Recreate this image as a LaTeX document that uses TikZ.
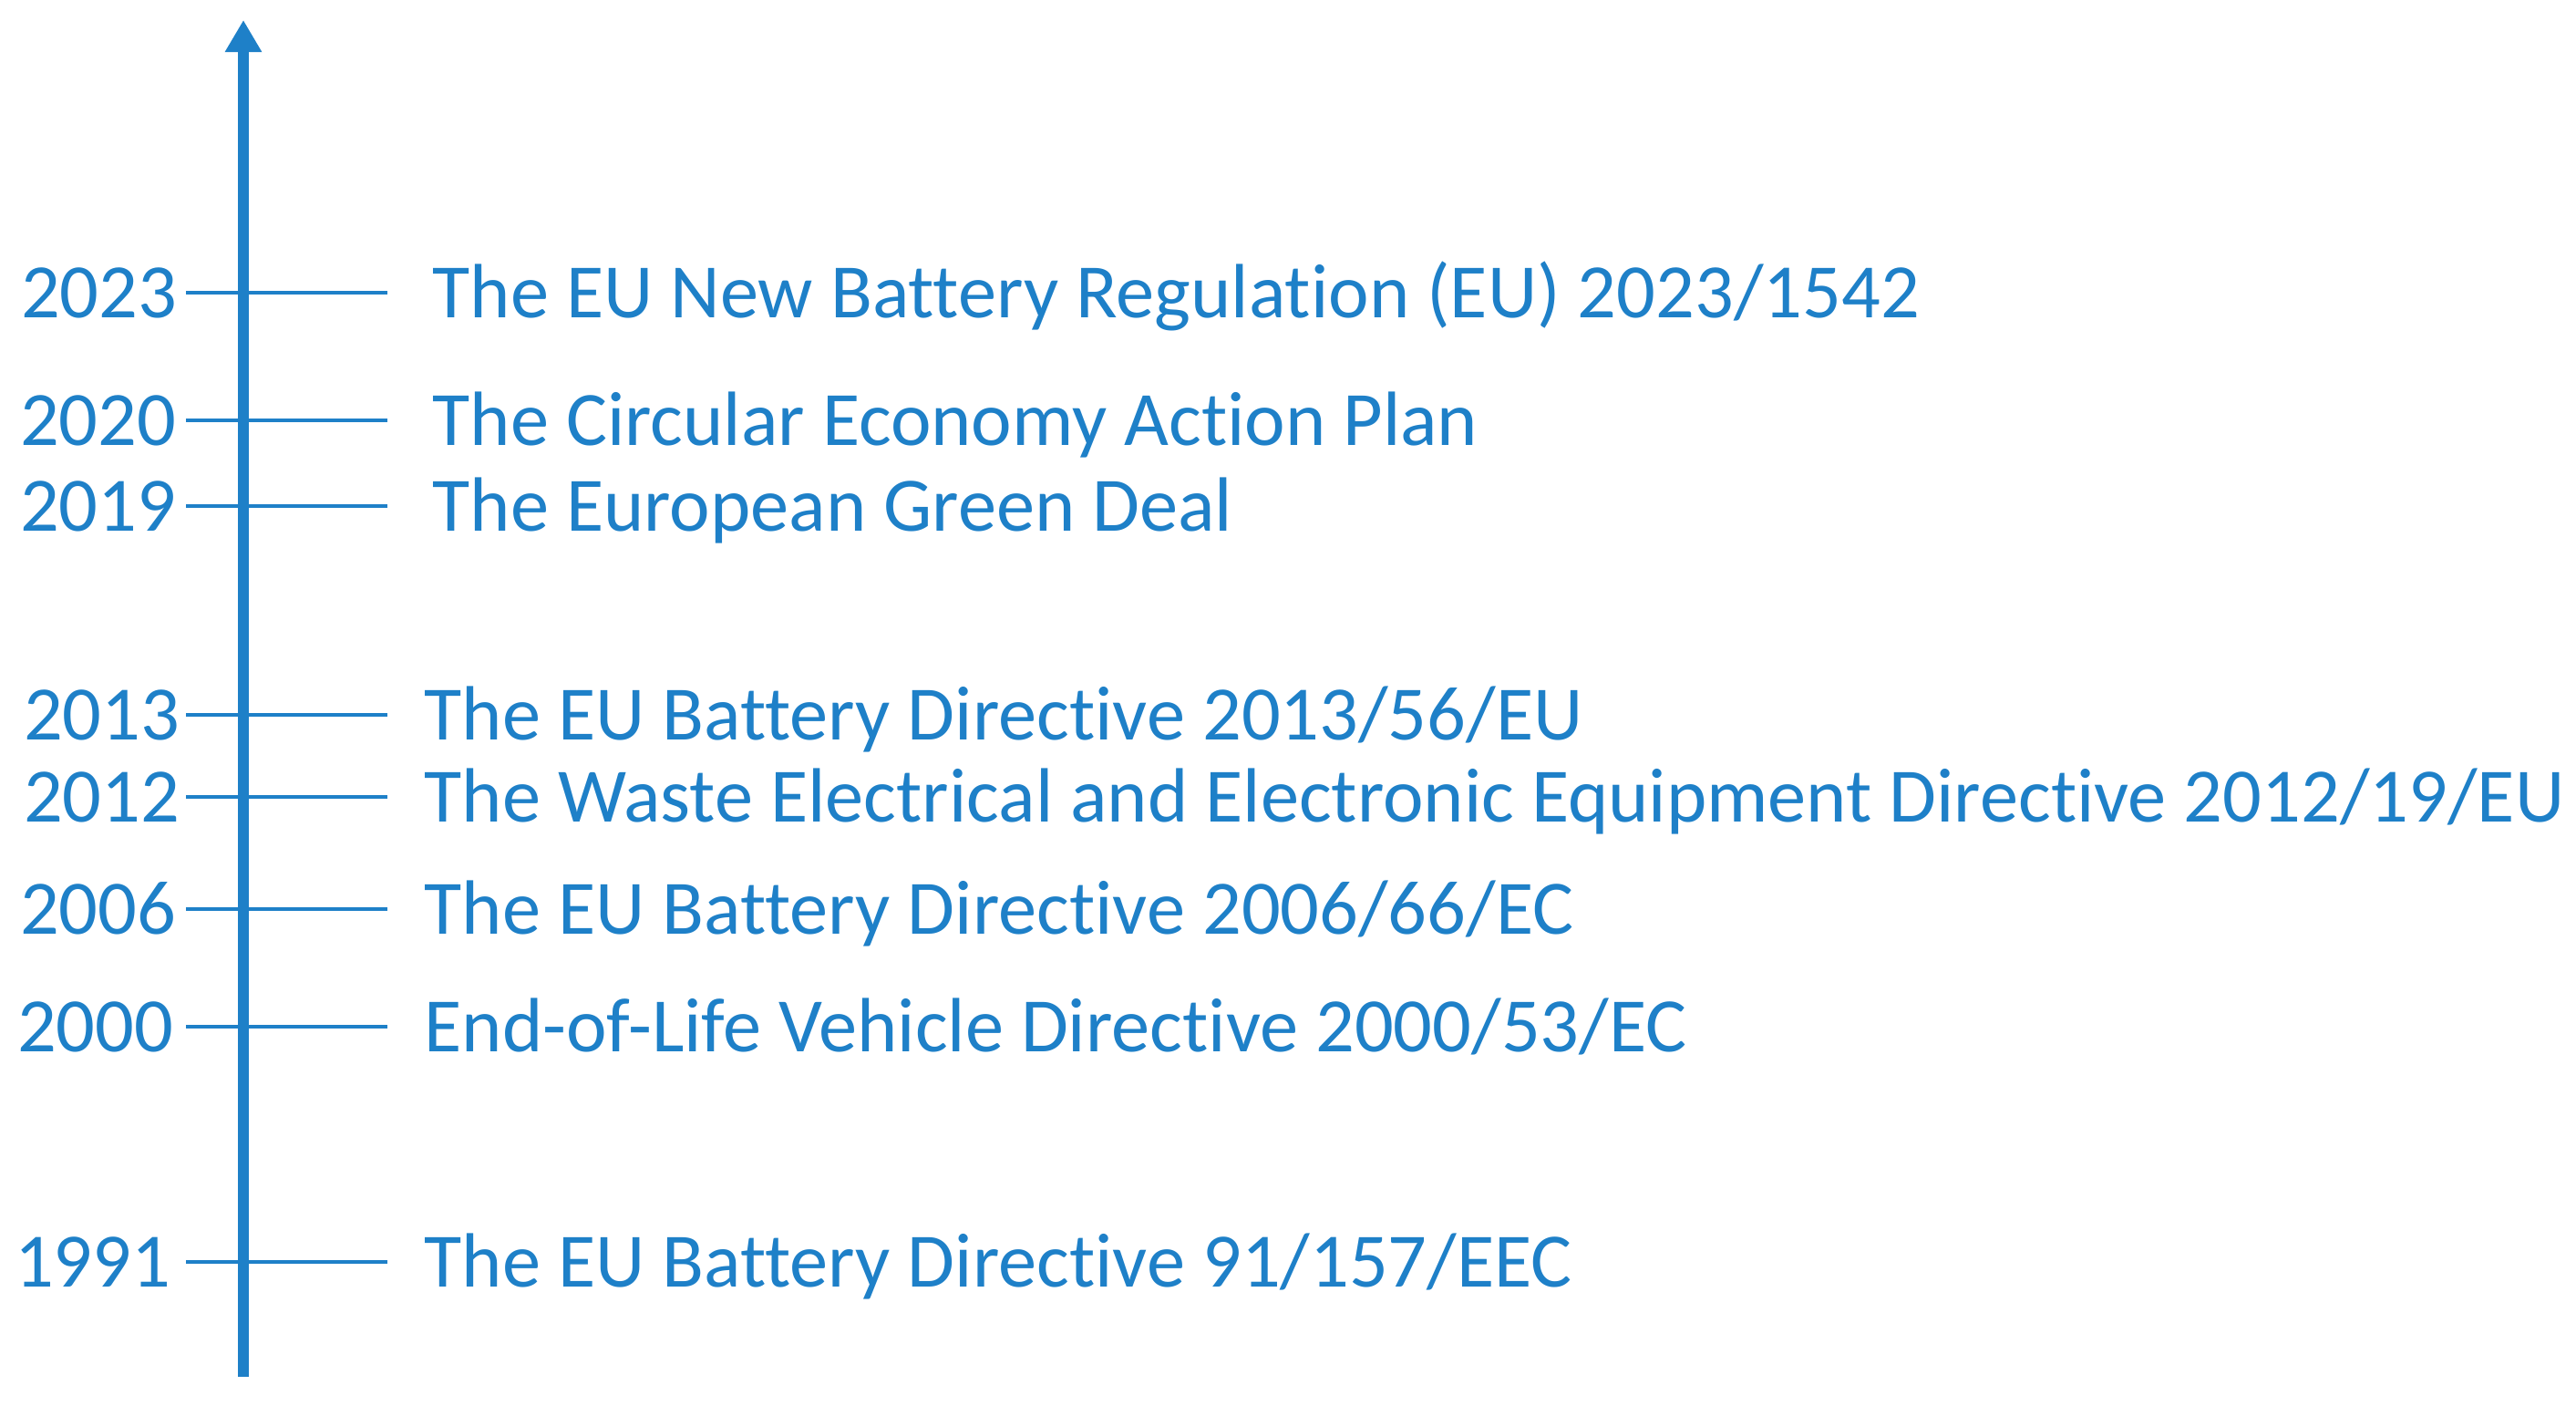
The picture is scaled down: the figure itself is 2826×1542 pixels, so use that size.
\documentclass[tikz,border=0pt]{standalone}
\usepackage{fontspec}
\setmainfont{Carlito}[Ligatures=NoCommon]
\usetikzlibrary{arrows.meta}
\definecolor{lawblue}{RGB}{30,128,200}

\begin{document}
\begin{tikzpicture}
	[x=0.01cm,y=-0.01cm,font=\fontsize{24}{29}\selectfont,text=lawblue]
	\tikzstyle{year}=[anchor=base east, inner sep=0pt];
	\tikzstyle{act}=[anchor=base west, inner sep=0pt];
	\tikzstyle{tick}=[draw=lawblue, line width=1.4pt];

	\useasboundingbox (0,0) rectangle (2826,1542);

	% time axis
	\coordinate (bottom) at (267,1510);
	\coordinate (top) at (267,22);
	\draw[lawblue, line width=3.4pt, -{Triangle[length=0.35cm,width=0.38cm]}] (bottom) -- (top);

	% years
	\node[year] (y2023) at (195,348) {2023};
	\node[year] (y2020) at (194,488) {2020};
	\node[year] (y2019) at (194,582) {2019};
	\node[year] (y2013) at (198,811) {2013};
	\node[year] (y2012) at (198,901) {2012};
	\node[year] (y2006) at (194,1024) {2006};
	\node[year] (y2000) at (191,1153) {2000};
	\node[year] (y1991) at (188,1411) {1991};

	% acts
	\node[act] (a2023) at (474,348) {The EU New Battery Regulation (EU) 2023/1542};
	\node[act] (a2020) at (474,488) {The Circular Economy Action Plan};
	\node[act] (a2019) at (474,582) {The European Green Deal};
	\node[act] (a2013) at (465,811) {The EU Battery Directive 2013/56/EU};
	\node[act] (a2012) at (465,901) {The Waste Electrical and Electronic Equipment Directive 2012/19/EU};
	\node[act] (a2006) at (465,1024) {The EU Battery Directive 2006/66/EC};
	\node[act] (a2000) at (465,1153) {End-of-Life Vehicle Directive 2000/53/EC};
	\node[act] (a1991) at (465,1411) {The EU Battery Directive 91/157/EEC};

	% ticks
	\coordinate (l2023) at (204,321); \coordinate (r2023) at (425,321);
	\coordinate (l2020) at (204,461); \coordinate (r2020) at (425,461);
	\coordinate (l2019) at (204,555); \coordinate (r2019) at (425,555);
	\coordinate (l2013) at (204,784); \coordinate (r2013) at (425,784);
	\coordinate (l2012) at (204,874); \coordinate (r2012) at (425,874);
	\coordinate (l2006) at (204,997); \coordinate (r2006) at (425,997);
	\coordinate (l2000) at (204,1126); \coordinate (r2000) at (425,1126);
	\coordinate (l1991) at (204,1384); \coordinate (r1991) at (425,1384);
	\path[tick]
	(l2023) edge (r2023)
	(l2020) edge (r2020)
	(l2019) edge (r2019)
	(l2013) edge (r2013)
	(l2012) edge (r2012)
	(l2006) edge (r2006)
	(l2000) edge (r2000)
	(l1991) edge (r1991);

\end{tikzpicture}
\end{document}
